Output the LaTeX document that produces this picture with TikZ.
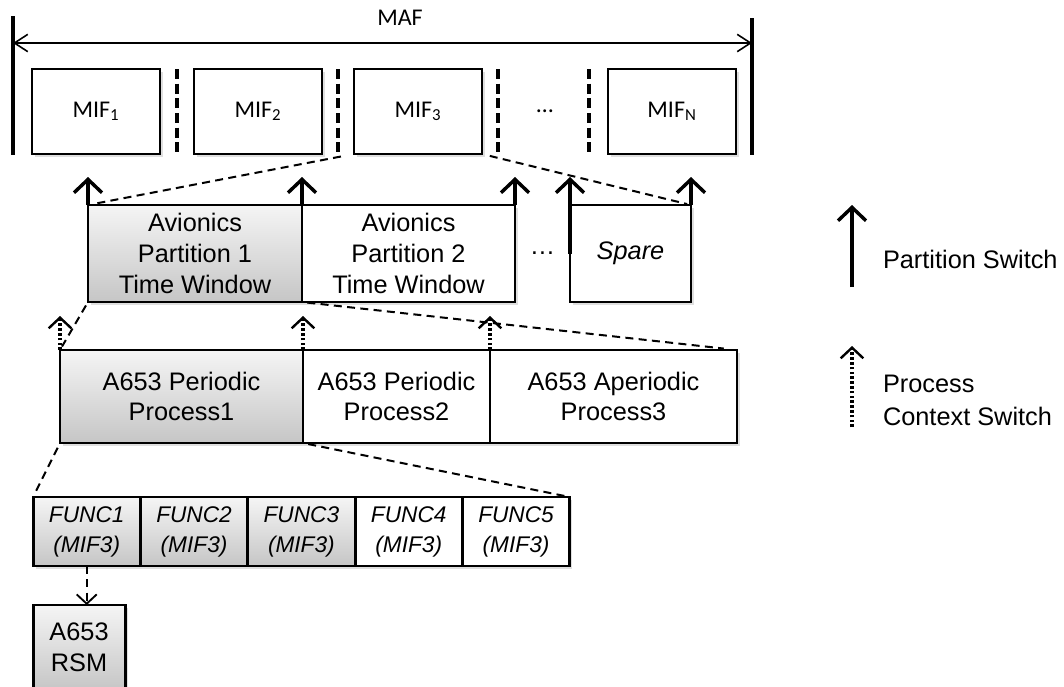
\documentclass[tikz,border=0pt]{standalone}
\usepackage{fontspec}
\setmainfont{Liberation Sans}
\newfontfamily\calibri{Carlito}
\usetikzlibrary{arrows.meta, positioning, calc, shadows}

\begin{document}
\begin{tikzpicture}[x=0.75pt, y=-0.75pt,
  every node/.style={align=center, inner sep=0pt, outer sep=0pt},
  box/.style={draw, line width=2.2pt, fill=white, font=\fontsize{19}{23}\selectfont,
              drop shadow={opacity=0.25, shadow xshift=2pt, shadow yshift=-2pt}},
  grey/.style={top color=gray!8, bottom color=gray!45},
  mif/.style={box, minimum width=96pt, minimum height=63.75pt,
              font=\calibri\fontsize{18}{22}\selectfont},
  win/.style={box, minimum height=72.75pt},
  proc/.style={box, minimum height=69.75pt},
  func/.style={box, minimum width=80.5pt, minimum height=51.75pt,
               font=\itshape\fontsize{17}{22.5}\selectfont},
  bar/.style={line width=3pt},
  sep/.style={line width=3pt, dash pattern=on 7.5pt off 3.5pt},
  maf/.style={line width=1.2pt, {Straight Barb[length=10pt,width=13pt]}-{Straight Barb[length=10pt,width=13pt]}},
  pswitch/.style={line width=2.6pt, -{Straight Barb[length=10pt,width=21pt]}},
  cswitch/.style={line width=2.4pt, dash pattern=on 2pt off 1.6pt},
  ctip/.style={line width=1.8pt, -{Straight Barb[length=8pt,width=17pt]}},
  zoomline/.style={line width=1.5pt, dash pattern=on 6pt off 4pt},
  call/.style={zoomline, -{Straight Barb[length=7pt,width=15pt,line width=1.4pt]}},
  dots/.style={font=\fontsize{19}{23}\selectfont},
  legend/.style={anchor=west, align=left, font=\fontsize{19}{24.5}\selectfont}
]
  \useasboundingbox (0,0) rectangle (1064,686);

  % major frame
  \node[mif] (mif1) at (96,111.5) {MIF\textsubscript{1}};
  \node[mif, right=25.5pt of mif1] (mif2) {MIF\textsubscript{2}};
  \node[mif, right=24pt of mif2] (mif3) {MIF\textsubscript{3}};
  \node[mif, right=94.5pt of mif3] (mifn) {MIF\textsubscript{N}};
  \node[dots, font=\calibri\fontsize{18}{22}\selectfont] (fdots) at ($(mif3.east)!0.5!(mifn.west)$) {…};

  \draw[sep] ($(mif1.north east)!0.5!(mif2.north west)$) -- ($(mif1.south east)!0.5!(mif2.south west)$);
  \draw[sep] ($(mif2.north east)!0.5!(mif3.north west)$) -- ($(mif2.south east)!0.5!(mif3.south west)$);
  \draw[sep] ([xshift=12pt]mif3.north east) -- ([xshift=12pt]mif3.south east);
  \draw[sep] ([xshift=-14.25pt]mifn.north west) -- ([xshift=-14.25pt]mifn.south west);

  \coordinate (lbarT) at (13,16);
  \coordinate (lbarB) at (13,155);
  \coordinate (rbarT) at (752,18);
  \coordinate (rbarB) at (752,155);
  \coordinate (mafL) at (13,43);
  \coordinate (mafR) at (752,43);
  \draw[bar] (lbarT) -- (lbarB);
  \draw[bar] (rbarT) -- (rbarB);
  \draw[maf] (mafL) -- (mafR);
  \node[font=\calibri\fontsize{18}{22}\selectfont] (maf) at (400,18) {MAF};

  % partition windows
  \node[win, grey, minimum width=160.5pt] (p1) at (195,253.5) {Avionics\\Partition 1\\Time Window};
  \node[win, minimum width=159.75pt, right=0pt of p1] (p2) {Avionics\\Partition 2\\Time Window};
  \node[win, minimum width=90.75pt, right=41.25pt of p2] (spare) {\itshape Spare};
  \node[dots] (wdots) at ($(p2.east)!0.5!(spare.west)$) {…};

  % processes
  \node[proc, grey, minimum width=182.25pt] (pr1) at (181.5,396.5) {A653 Periodic\\Process1};
  \node[proc, minimum width=140.25pt, right=0pt of pr1] (pr2) {A653 Periodic\\Process2};
  \node[proc, minimum width=185.25pt, right=0pt of pr2] (pr3) {A653 Aperiodic\\Process3};

  % functions
  \node[func, grey] (f1) at (86.7,531.5) {FUNC1\\(MIF3)};
  \node[func, grey, right=0pt of f1] (f2) {FUNC2\\(MIF3)};
  \node[func, grey, right=0pt of f2] (f3) {FUNC3\\(MIF3)};
  \node[func, right=0pt of f3] (f4) {FUNC4\\(MIF3)};
  \node[func, right=0pt of f4] (f5) {FUNC5\\(MIF3)};
  \node[box, grey, minimum width=69pt, minimum height=63.75pt,
        below=29.25pt of f1.south west, anchor=north west] (rsm) {A653\\RSM};

  % zoom lines
  \draw[zoomline, shorten <=10pt, shorten >=5pt] (mif3.south west) -- (p1.north west);
  \draw[zoomline, shorten <=6pt, shorten >=3pt] (mif3.south east) -- (spare.north east);
  \draw[zoomline, shorten <=3pt, shorten >=3pt] (p1.south west) -- (pr1.north west);
  \draw[zoomline, shorten <=4pt, shorten >=10pt] (p1.south east) -- (pr3.north east);
  \draw[zoomline, shorten <=4pt, shorten >=2pt] (pr1.south west) -- (f1.north west);
  \draw[zoomline, shorten <=4pt, shorten >=4pt] (pr1.south east) -- (f5.north east);
  \draw[call] (f1.south) -- (f1.south |- rsm.north);

  % switches
  \foreach \a in {p1.north west, p1.north east, p2.north east, spare.north east}
    \draw[pswitch] (\a) -- ([yshift=21pt]\a);
  \draw[pswitch] (spare.west) -- ([yshift=21pt]spare.north west);
  \foreach \a in {pr1.north west, pr1.north east, pr2.north east}{
    \draw[cswitch] (\a) -- ([yshift=24pt]\a);
    \draw[ctip] ([yshift=23pt]\a) -- ([yshift=25.5pt]\a);
  }

  % legend
  \coordinate (psB) at (852,287);
  \coordinate (psT) at (852,205);
  \draw[pswitch] (psB) -- (psT);
  \node[legend] (pslab) at (883,259) {Partition Switch};
  \coordinate (csB) at (852,427);
  \coordinate (csT) at (852,346);
  \draw[cswitch] (csB) -- ([yshift=-1.5pt]csT);
  \draw[ctip] ([yshift=-2.5pt]csT) -- (csT);
  \node[legend] (cslab) at (883,400.5) {Process\\Context Switch};
\end{tikzpicture}
\end{document}
